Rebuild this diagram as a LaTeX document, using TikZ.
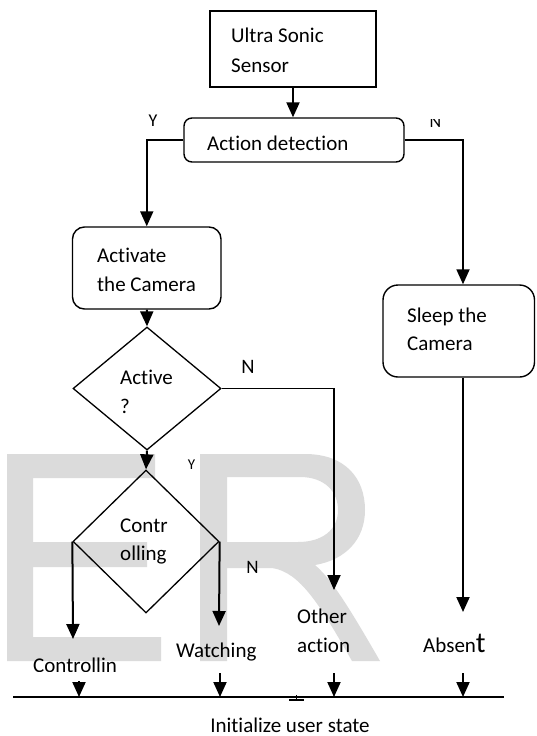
\documentclass[tikz,border=0pt]{standalone}
\usepackage{fontspec}
\setmainfont{Carlito}[Ligatures={NoCommon,NoRequired,NoContextual}]
\usetikzlibrary{arrows.meta,shapes.geometric}

\begin{document}
\begin{tikzpicture}[x=1pt,y=-1pt,
  box/.style={draw, line width=1.4pt, inner sep=0pt},
  rbox/.style={box, rounded corners=#1},
  dia/.style={diamond, draw, line width=1.3pt, inner sep=0pt},
  txt/.style={font=\fontsize{21}{25}\selectfont, inner sep=0pt, anchor=base west},
  yn/.style={font=\fontsize{#1}{#1}\selectfont, inner sep=0pt},
  arr/.style={-{Triangle[width=13pt,length=15pt]}, line width=2pt},
  bar/.style={line width=2pt},
  wmark/.style={fill=black!14, draw=none, even odd rule}]

\useasboundingbox (0,0) rectangle (536,736);

% watermark letters in the background
\fill[wmark] (7,454) -- (155,454) -- (155,478) -- (33,478) -- (33,542)
  -- (147,542) -- (147,567) -- (33,567) -- (33,637) -- (161,637)
  -- (161,661) -- (7,661) -- cycle;
\fill[wmark] (200,454) -- (305,454)
  .. controls (345,454) and (365,478) .. (365,510)
  .. controls (365,540) and (345,560) .. (315,565)
  .. controls (330,578) and (345,600) .. (380,661)
  -- (352,661)
  .. controls (320,605) and (300,572) .. (272,568)
  -- (227,568) -- (227,661) -- (200,661) -- cycle
  (227,477) -- (300,477)
  .. controls (325,477) and (338,492) .. (338,510)
  .. controls (338,530) and (322,542) .. (298,542)
  -- (227,542) -- cycle;

% process boxes
\node[box, minimum width=166pt, minimum height=76pt] (usb) at (293,49) {};
\node[rbox=8pt, minimum width=220pt, minimum height=44pt] (act) at (294,140) {};
\node[rbox=12pt, minimum width=148.5pt, minimum height=82pt] (cam) at (146.75,268) {};
\node[rbox=15pt, minimum width=151.5pt, minimum height=92pt] (sleep) at (458.75,331) {};

% decisions
\node[dia, minimum width=148pt, minimum height=123pt] (d1) at (147,388.5) {};
\node[dia, minimum width=146pt, minimum height=143pt] (d2) at (146,541.5) {};

% box texts
\node[txt] (usbA) at (231,42) {Ultra Sonic};
\node[txt] (usbB) at (231,72) {Sensor};
\node[txt] (actA) at (207,150) {Action detection};
\node[txt] (camA) at (97,262) {Activate};
\node[txt] (camB) at (97,291) {the Camera};
\node[txt] (slA) at (407,322) {Sleep the};
\node[txt] (slB) at (407,350) {Camera};
\node[txt] (d1A) at (120,384) {Active};
\node[txt] (d1B) at (120,413) {?};
\node[txt] (d2A) at (120,532) {Contr};
\node[txt] (d2B) at (120,560) {olling};

% outcome texts
\node[txt] (othA) at (297,623) {Other};
\node[txt] (othB) at (297,652) {action};
\node[txt] (absA) at (423,652) {Absen{\fontsize{29}{29}\selectfont t}};
\node[txt] (watA) at (176,657) {Watching};
\begin{scope}
  \clip (0,600) rectangle (150,671.5);
  \node[txt] (ctlA) at (33,672) {Controllin};
\end{scope}
\node[txt, anchor=base] (init) at (290,732) {Initialize user state};

% branch labels
\node[yn=18] (y1) at (153,121) {Y};
\begin{scope}
  \clip (400,119) rectangle (480,140);
  \node[yn=18] (n1) at (435.5,121.5) {N};
\end{scope}
\node[yn=20.5] (n2) at (248,367) {N};
\node[yn=15] (y2) at (191.5,464.5) {Y};
\node[yn=19] (n3) at (252.5,567) {N};

% helper coordinates
\coordinate (sx) at (463,0);
\coordinate (oth) at (334,590);
\coordinate (ctl) at (73,639);
\coordinate (wat) at (219,626);
\coordinate (abs) at (463,612);
\coordinate (barL) at (13,697);
\coordinate (barR) at (504,697);
\coordinate (t1) at (79,681);
\coordinate (t2) at (220,673);
\coordinate (t3) at (334,673);
\coordinate (t4) at (463,673);

% connectors
\draw[arr] (usb.south) -- (usb.south |- act.north);
\draw[arr, line width=1.8pt] (act.west) -| (cam.north);
\draw[arr, line width=1.8pt] (act.east) -| (sleep.north -| sx);
\draw[arr] (cam.south) -- (d1.north);
\draw[arr, line width=1.8pt] (d1.east) -| (oth);
\draw[arr] (d1.south) -- (d2.north);
\draw[arr] (d2.west) -- (ctl);
\draw[arr] (d2.east) -- (wat);
\draw[arr] (sleep.south -| sx) -- (abs);

% common bar and the arrows into it
\draw[bar] (barL) -- (barR);
\draw[arr] (t1) -- (t1 |- barL);
\draw[arr] (t2) -- (t2 |- barL);
\draw[arr] (t3) -- (t3 |- barL);
\draw[arr] (t4) -- (t4 |- barL);
\draw[line width=2.5pt] (289,700) -- (304,700);
\draw[line width=1pt] (296.5,695) -- (296.5,699);
\end{tikzpicture}
\end{document}
